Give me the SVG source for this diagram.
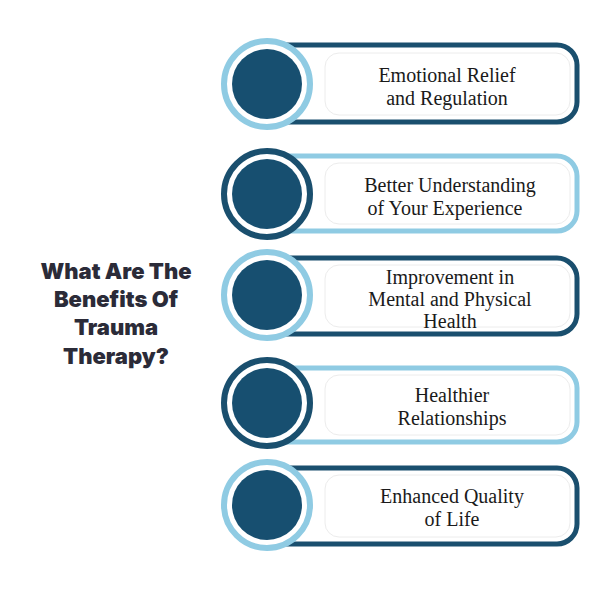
<svg xmlns="http://www.w3.org/2000/svg" width="600" height="600" viewBox="0 0 600 600">
<style>
.bd{fill:#fff;stroke:#1a4f6e;stroke-width:5}
.bl{fill:#fff;stroke:#8fcbe3;stroke-width:5}
.in{fill:#fff;stroke:#ececec;stroke-width:1}
.rl{fill:#fff;stroke:#8fcbe3;stroke-width:6}
.rd{fill:#fff;stroke:#1a4f6e;stroke-width:6}
.dot{fill:#174f70}
.t{font-family:"Liberation Serif",serif;font-size:20px;fill:#1a1a1a;text-anchor:middle}
.h{font-family:Inter,"Open Sans",sans-serif;font-weight:900;font-size:22px;fill:#2b2b38;text-anchor:middle}
</style>
<rect width="600" height="600" fill="#fff"/>
<g id="title"><text class="h" x="116" y="279">What Are The</text><text class="h" x="116" y="307">Benefits Of</text><text class="h" x="116" y="335">Trauma</text><text class="h" x="116" y="364">Therapy?</text></g>
<g id="n1"><rect class="bd" x="250" y="45" width="327" height="77" rx="20"/><rect class="in" x="325" y="53" width="245" height="62" rx="14"/><circle class="rl" cx="267" cy="84" r="43"/><circle class="dot" cx="267" cy="84" r="35"/><text class="t" x="447" y="82">Emotional Relief</text><text class="t" x="447" y="105">and Regulation</text></g>
<g id="n2"><rect class="bl" x="250" y="156" width="327" height="75" rx="20"/><rect class="in" x="325" y="163" width="245" height="61" rx="14"/><circle class="rd" cx="267" cy="194" r="43"/><circle class="dot" cx="267" cy="194" r="35"/><text class="t" x="450" y="192">Better Understanding</text><text class="t" x="445" y="215">of Your Experience</text></g>
<g id="n3"><rect class="bd" x="250" y="258" width="327" height="76" rx="20"/><rect class="in" x="325" y="265" width="245" height="62" rx="14"/><circle class="rl" cx="267" cy="295" r="43"/><circle class="dot" cx="267" cy="295" r="35"/><text class="t" x="450" y="284">Improvement in</text><text class="t" x="450" y="306">Mental and Physical</text><text class="t" x="450" y="328">Health</text></g>
<g id="n4"><rect class="bl" x="250" y="368" width="327" height="74" rx="20"/><rect class="in" x="325" y="375" width="245" height="60" rx="14"/><circle class="rd" cx="267" cy="403" r="43"/><circle class="dot" cx="267" cy="403" r="35"/><text class="t" x="452" y="402">Healthier</text><text class="t" x="452" y="425">Relationships</text></g>
<g id="n5"><rect class="bd" x="250" y="468" width="327" height="76" rx="20"/><rect class="in" x="325" y="475" width="245" height="62" rx="14"/><circle class="rl" cx="267" cy="505" r="43"/><circle class="dot" cx="267" cy="505" r="35"/><text class="t" x="452" y="503">Enhanced Quality</text><text class="t" x="452" y="526">of Life</text></g>
<g id="connectors"/>
</svg>
